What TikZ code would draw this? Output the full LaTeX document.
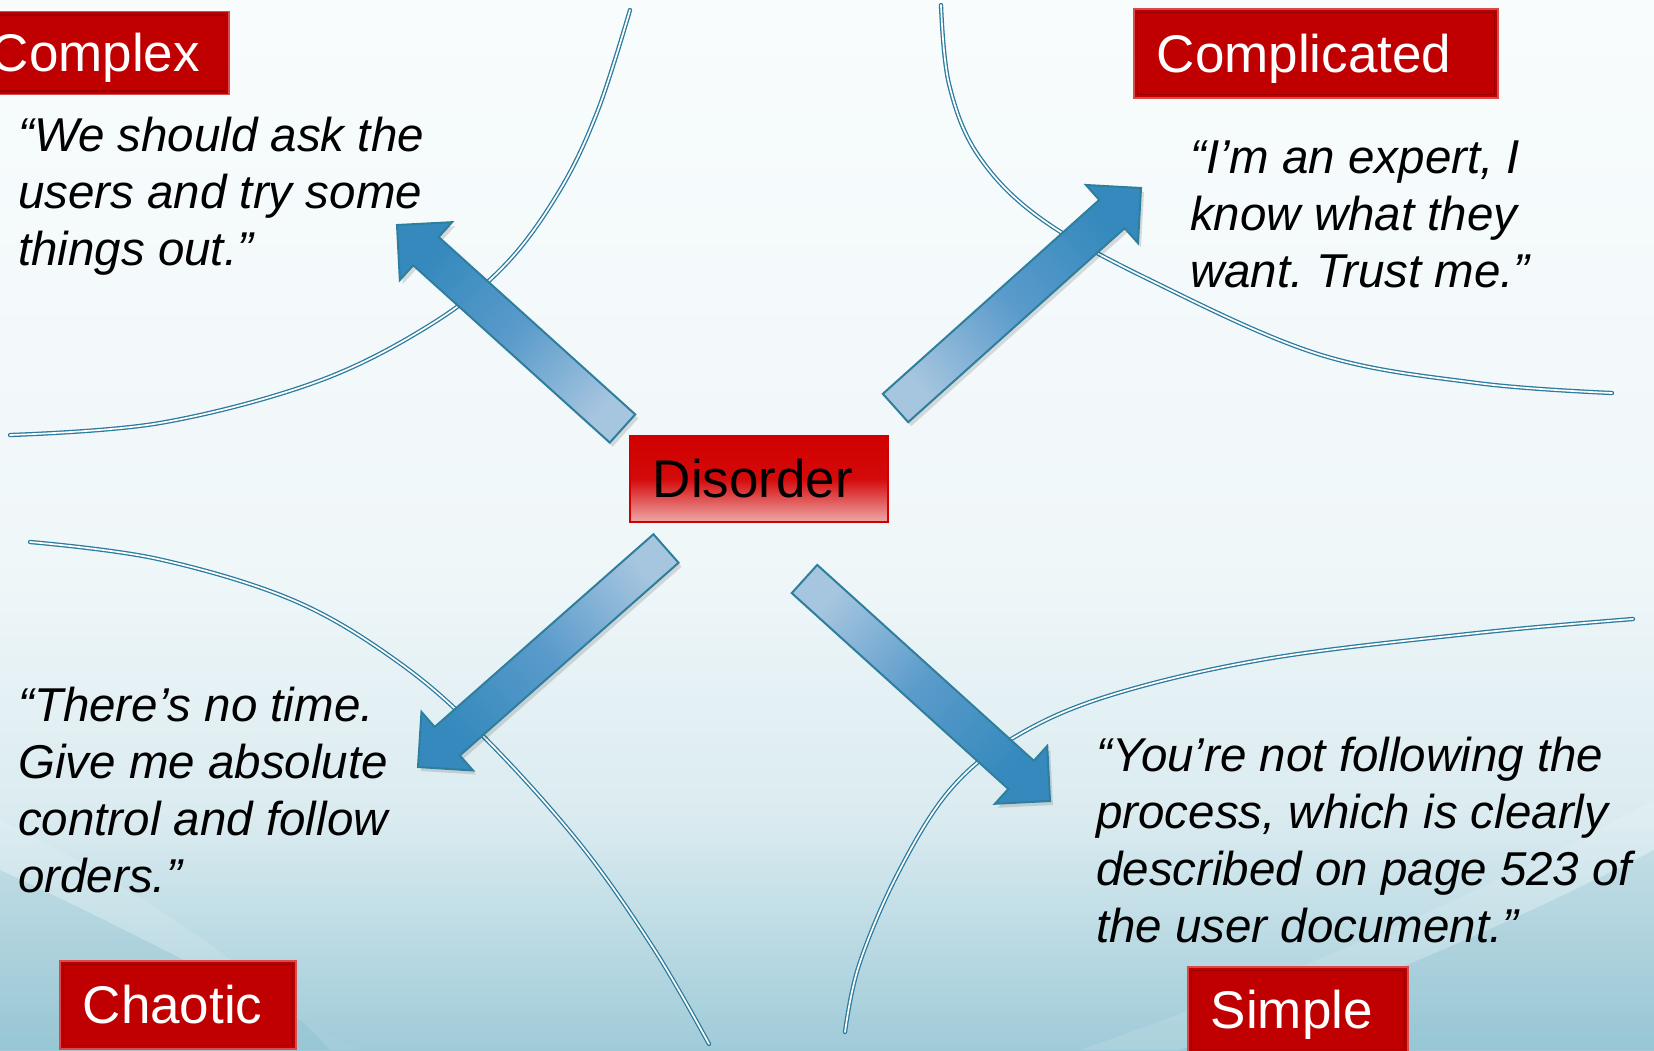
\documentclass[tikz,border=0pt]{standalone}
\usepackage{fontspec}
\setmainfont{Liberation Sans}
\usetikzlibrary{calc}
\newcommand{\labelfont}{\fontsize{53}{60}\selectfont}
\newcommand{\quotefont}{\fontsize{47.5}{57.3}\selectfont\itshape}
\definecolor{boxred}{HTML}{C00000}
\definecolor{boxedge}{HTML}{D94A4A}
\definecolor{boxinner}{HTML}{9A0000}
\definecolor{disred}{HTML}{D00000}
\definecolor{dismid}{HTML}{D40A0A}
\definecolor{dispink}{HTML}{EEA6A6}
\definecolor{curveblue}{HTML}{2A7B9E}
\definecolor{arrowedge}{HTML}{2E7F9E}
\definecolor{arrowheadc}{HTML}{3589BD}
\definecolor{arrowmid}{HTML}{5A9BCB}
\definecolor{arrowtail}{HTML}{A6C5DF}
\definecolor{bgtop}{HTML}{F8FCFD}
\definecolor{bgmid}{HTML}{F0F7F9}
\definecolor{bglow}{HTML}{DAEBF0}
\definecolor{bgbot}{HTML}{9FCBD8}
\definecolor{bgdark}{HTML}{6FAEC2}
\newcommand{\bluearrow}[3]{%
  \coordinate (ba-b) at ($(#2)!39pt!(#1)$);
  \coordinate (ba-t1) at ($(#1)!19pt!90:(#2)$);
  \coordinate (ba-t2) at ($(#1)!19pt!-90:(#2)$);
  \coordinate (ba-s1) at ($(ba-b)!19pt!90:(#2)$);
  \coordinate (ba-s2) at ($(ba-b)!19pt!-90:(#2)$);
  \coordinate (ba-h1) at ($(ba-b)!39pt!90:(#2)$);
  \coordinate (ba-h2) at ($(ba-b)!39pt!-90:(#2)$);
  \fill[black, opacity=0.13, transform canvas={shift={(3pt,-4pt)}}]
    (ba-t1) -- (ba-s1) -- (ba-h1) -- (#2) -- (ba-h2) -- (ba-s2) -- (ba-t2) -- cycle;
  \path[arrowbody, shading angle=#3]
    (ba-t1) -- (ba-s1) -- (ba-h1) -- (#2) -- (ba-h2) -- (ba-s2) -- (ba-t2) -- cycle;
}
\begin{document}
\frenchspacing
\begin{tikzpicture}[x=1pt,y=-1pt,
  redbox/.style={draw=boxedge, line width=1.5pt, fill=boxred, text=white,
    font=\labelfont, inner ysep=0pt, inner xsep=23pt, text height=38pt,
    text depth=0pt, align=left, anchor=north west,
    path picture={\draw[boxinner, line width=1.2pt]
      ([shift={(3.5pt,-3.5pt)}]path picture bounding box.north west) rectangle
      ([shift={(-3.5pt,3.5pt)}]path picture bounding box.south east);}},
  disbox/.style={draw=disred, line width=1.5pt, top color=disred,
    bottom color=dispink, middle color=dismid, text=black,
    font=\labelfont, inner ysep=0pt, inner xsep=23pt, text height=38pt,
    text depth=0pt, align=left, anchor=north west},
  quote/.style={font=\quotefont, inner sep=0pt, anchor=base west, text=black},
  curve/.style={draw=curveblue, line width=1.3pt, double=white,
    double distance=1.7pt, line cap=round},
  arrowbody/.style={draw=arrowedge, line width=2pt, line join=miter,
    top color=arrowheadc, bottom color=arrowtail, middle color=arrowmid}
]
\useasboundingbox (0,0) rectangle (1654,1050);
% background
\shade[top color=bgtop, bottom color=bgmid] (0,0) rectangle (1654,560);
\shade[top color=bgmid, bottom color=bglow] (0,559) rectangle (1654,820);
\shade[top color=bglow, bottom color=bgbot] (0,819) rectangle (1654,1050);
\fill[bgdark, opacity=0.16] (1654,850) .. controls (1500,930) and (1330,1000) .. (1180,1050) -- (1654,1050) -- cycle;
\fill[bgdark, opacity=0.16] (0,870) .. controls (130,930) and (260,1000) .. (360,1050) -- (0,1050) -- cycle;
\fill[white, opacity=0.12] (1654,800) .. controls (1470,900) and (1280,980) .. (1080,1050) -- (1180,1050) .. controls (1330,1000) and (1500,930) .. (1654,850) -- cycle;
\fill[white, opacity=0.12] (0,820) .. controls (120,880) and (250,960) .. (330,1050) -- (360,1050) .. controls (260,1000) and (130,930) .. (0,870) -- cycle;

% curves
\draw[curve] plot[smooth, tension=0.6] coordinates {(10,435) (160,423) (316,382) (430,325) (505,265) (560,190) (598,110) (630,10)};
\draw[curve] plot[smooth, tension=0.6] coordinates {(941,5) (949,84) (978,155) (1040,218) (1150,280) (1318,354) (1477,383) (1612,393)};
\draw[curve] plot[smooth, tension=0.6] coordinates {(30,542) (158,559) (295,601) (401,664) (485,738) (580,844) (654,949) (709,1044)};
\draw[curve] plot[smooth, tension=0.6] coordinates {(1633,619) (1477,633) (1266,659) (1108,696) (1013,738) (949,791) (897,875) (859,965) (845,1032)};

% arrows
\coordinate (a1t) at (622.5,428.5);
\coordinate (a1h) at (397,225);
\coordinate (a2t) at (895.5,408);
\coordinate (a2h) at (1141,188);
\coordinate (a3t) at (666,548.5);
\coordinate (a3h) at (418,767);
\coordinate (a4t) at (804.5,579);
\coordinate (a4h) at (1050,801);
\bluearrow{a1t}{a1h}{48}
\bluearrow{a2t}{a2h}{-48}
\bluearrow{a3t}{a3h}{131}
\bluearrow{a4t}{a4h}{-132}

% boxes
\node[redbox, text width=215pt, minimum height=83pt] (complex) at (-33,10.7) {Complex};
\node[redbox, text width=318pt, minimum height=89pt] (complicated) at (1133,8) {Complicated};
\node[disbox, text width=212pt, minimum height=86pt] (disorder) at (629,435) {Disorder};
\node[redbox, text width=190pt, minimum height=88pt] (chaotic) at (59,960) {Chaotic};
\node[redbox, text width=174pt, minimum height=86pt] (simple) at (1187,966) {Simple};

% quotes
\node[quote] (qtl) at (18,151) {\vtop{\hbox{“We should ask the}\hbox{users and try some}\hbox{things out.”}}};
\node[quote] (qtr) at (1190,173) {\vtop{\hbox{“I’m an expert, I}\hbox{know what they}\hbox{want. Trust me.”}}};
\node[quote] (qbl) at (18,721) {\vtop{\hbox{“There’s no time.}\hbox{Give me absolute}\hbox{control and follow}\hbox{orders.”}}};
\node[quote] (qbr) at (1096,771) {\vtop{\hbox{“You’re not following the}\hbox{process, which is clearly}\hbox{described on page 523 of}\hbox{the user document.”}}};
\end{tikzpicture}
\end{document}
